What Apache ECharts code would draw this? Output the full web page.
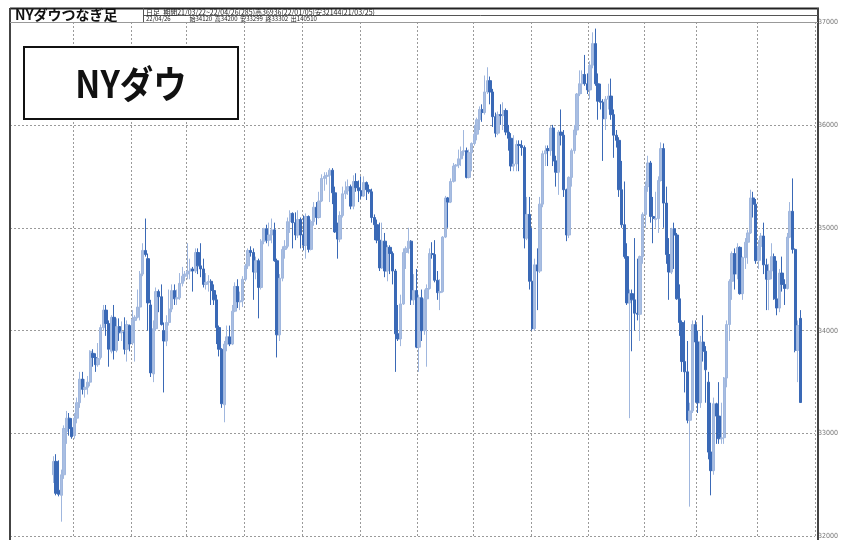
<!DOCTYPE html>
<html><head><meta charset="utf-8">
<script src="https://cdn.jsdelivr.net/npm/echarts/dist/echarts.min.js"></script>
<style>html,body{margin:0;padding:0;background:#fff}#c{width:841px;height:540px}</style>
</head><body><div id="c"></div>
<script>
// daily candles [open, high, low, close], one array per month
const mar21 = [[32600,32780,32520,32730],[32730,32800,32400,32420],[32450,32740,32390,32410],[32400,32650,32144,32600],[32600,33080,32560,33050],[33020,33220,32900,33150],[33150,33200,32980,33050],[33060,33150,32950,32970]];
const apr21 = [[32980,33200,32950,33150],[33150,33350,33100,33300],[33300,33600,33250,33530],[33530,33600,33380,33430],[33430,33530,33350,33450],[33450,33560,33380,33500],[33500,33810,33460,33800],[33780,33820,33650,33740],[33740,33780,33600,33670],[33670,33880,33650,33730],[33740,34060,33720,34030],[34030,34250,34000,34200],[34200,34250,33950,34070],[34070,34100,33650,33820],[33800,34150,33780,34130],[34130,34250,33720,33810],[33810,34120,33790,34040],[34040,34120,33900,33980],[33980,34090,33900,33990],[33990,34130,33770,33820],[33820,34100,33700,34060],[34050,34060,33800,33870]];
const may21 = [[33880,34200,33860,34110],[34100,34150,33700,34130],[34130,34400,34120,34230],[34230,34580,34100,34550],[34550,34850,34530,34780],[34780,35090,34720,34740],[34700,34750,34000,34270],[34250,34300,33550,33590],[33580,34100,33500,34020],[34020,34420,34000,34380],[34380,34400,34180,34330],[34330,34450,34050,34060],[34000,34080,33400,33900],[33900,34150,33850,34080],[34080,34400,34050,34210],[34210,34450,34180,34390],[34390,34450,34250,34310],[34310,34400,34250,34320],[34320,34560,34300,34460],[34460,34620,34430,34530],[34530,34580,34480,34550]];
const jun21 = [[34550,34850,34500,34580],[34580,34700,34500,34600],[34600,34620,34380,34580],[34580,34800,34560,34760],[34760,34800,34550,34630],[34630,34850,34520,34600],[34600,34700,34420,34450],[34450,34560,34400,34470],[34470,34540,34380,34480],[34480,34500,34250,34390],[34390,34450,34250,34300],[34300,34350,33870,34030],[34030,34050,33750,33820],[33820,33830,33250,33290],[33280,33900,33110,33870],[33870,34050,33800,33940],[33940,34050,33850,33870],[33870,34250,33860,34190],[34190,34470,34180,34430],[34430,34500,34220,34280],[34280,34380,34200,34290],[34290,34530,34230,34500]];
const jul21 = [[34500,34650,34480,34630],[34630,34800,34600,34780],[34780,34820,34720,34760],[34760,34800,34300,34570],[34570,34720,34500,34680],[34680,34700,34120,34420],[34420,34890,34400,34870],[34870,35000,34840,34990],[34990,35030,34850,34880],[34880,35050,34820,34930],[34930,35090,34850,34980],[34980,35050,34670,34680],[34680,34700,33740,33960],[33960,34550,33900,34510],[34510,34820,34480,34790],[34790,34880,34700,34820],[34820,35100,34800,35060],[35060,35170,34950,35140],[35140,35150,34800,35050],[35050,35150,34880,34930],[34930,35170,34900,35080],[35080,35100,34800,34930]];
const aug21 = [[34930,35120,34780,34830],[34830,35140,34700,35110],[35110,35120,34760,34790],[34790,35080,34780,35060],[35060,35250,35020,35200],[35200,35250,35030,35100],[35100,35350,35090,35260],[35260,35520,35250,35480],[35480,35540,35360,35500],[35500,35540,35420,35510],[35510,35580,35250,35560],[35560,35580,35230,35340],[35340,35400,34950,34960],[34960,35050,34700,34890],[34890,35160,34860,35120],[35120,35400,35100,35330],[35330,35450,35280,35360],[35360,35470,35320,35400],[35400,35420,35180,35210],[35210,35510,35180,35450],[35450,35530,35350,35390],[35390,35460,35250,35360]];
const sep21 = [[35360,35500,35280,35310],[35310,35500,35300,35440],[35440,35450,35270,35370],[35370,35420,35330,35350],[35350,35380,35050,35100],[35100,35130,34880,35030],[35030,35080,34850,34880],[34880,35050,34580,34610],[34610,35050,34600,34870],[34870,34950,34520,34580],[34580,34830,34480,34810],[34810,34830,34550,34750],[34750,34770,34450,34580],[34580,34600,33600,33970],[33970,34250,33900,33920],[33920,34350,33850,34260],[34260,34800,34250,34760],[34760,34820,34600,34800],[34800,35000,34750,34870],[34870,34880,34250,34300],[34300,34550,34250,34390],[34390,34600,33830,33840]];
const oct21 = [[33840,34350,33600,34320],[34320,34400,33900,34000],[34000,34400,33960,34310],[34310,34450,33650,34410],[34410,34800,34400,34750],[34750,34860,34700,34740],[34740,34880,34470,34490],[34490,34580,34300,34370],[34370,34500,34200,34380],[34380,34920,34370,34910],[34910,35310,34900,35290],[35290,35300,35000,35250],[35250,35480,35240,35450],[35450,35630,35440,35600],[35600,35620,35450,35610],[35610,35760,35580,35670],[35670,35790,35600,35740],[35740,35950,35700,35750],[35750,35780,35480,35490],[35490,35760,35480,35730],[35730,35830,35550,35820]];
const nov21 = [[35820,36000,35800,35910],[35910,36070,35850,36050],[36050,36180,35950,36150],[36150,36200,36030,36120],[36120,36480,36100,36320],[36320,36560,36300,36430],[36430,36470,36200,36320],[36320,36350,35980,36080],[36080,36120,35880,35920],[35920,36130,35900,36100],[36100,36200,36000,36090],[36090,36220,35950,36140],[36140,36160,35900,35930],[35930,36000,35750,35870],[35870,35920,35550,35600],[35600,35900,35550,35620],[35620,35850,35550,35810],[35810,35850,35550,35800],[35800,35850,35700,35780],[35780,35800,34800,34900],[34900,35300,34880,35130],[35130,35300,34400,34480]];
const dec21 = [[34480,35000,34000,34020],[34020,34700,34000,34640],[34640,34800,34200,34580],[34580,35300,34560,35230],[35230,35750,35200,35720],[35720,35800,35600,35750],[35770,35800,35600,35750],[35750,35990,35700,35970],[35970,36000,35600,35650],[35650,35700,35400,35540],[35540,35950,35320,35930],[35930,36150,35800,35900],[35900,35950,35300,35370],[35370,35380,34870,34930],[34930,35500,34900,35490],[35490,35770,35400,35750],[35750,36000,35720,35950],[35950,36310,35900,36300],[36300,36530,36280,36400],[36400,36530,36300,36490],[36490,36680,36380,36400],[36400,36500,36300,36340]];
const jan22 = [[36340,36620,36250,36580],[36580,36900,36550,36790],[36790,36936,36380,36400],[36400,36500,36050,36230],[36230,36400,36150,36220],[36220,36250,35650,36060],[36060,36280,35950,36250],[36250,36400,36150,36280],[36280,36450,36050,36100],[36100,36150,35680,35900],[35900,35950,35780,35850],[35850,35880,35300,35370],[35370,35650,35000,35030],[35030,35450,34700,34720],[34720,34850,34250,34270],[34270,34400,33150,34360],[34360,34400,33800,34300],[34300,34900,34000,34170],[34170,34700,34100,34160],[34160,34730,33900,34720],[34720,35150,34650,35130]];
const feb22 = [[35130,35450,35000,35400],[35400,35700,35350,35630],[35630,35650,35050,35110],[35110,35300,34850,35090],[35080,35350,35000,35090],[35090,35500,34950,35460],[35460,35830,35450,35770],[35770,35820,35000,35240],[35240,35400,34650,34740],[34740,34900,34300,34570],[34570,35000,34550,34990],[34990,35050,34600,34930],[34930,34950,34300,34310],[34310,34450,33950,34080],[34080,34100,33600,33700],[33700,34100,33400,33600],[33600,33900,33100,33130],[33130,33300,32290,33220],[33220,34100,33200,34060],[34060,34100,33300,33890]];
const mar22 = [[33890,34000,33200,33300],[33300,33950,33250,33890],[33890,34150,33700,33800],[33800,33850,33300,33620],[33500,33600,32750,32820],[32820,33300,32400,32640],[32640,33350,32600,33290],[33290,33300,32900,33170],[33170,33500,32900,32950],[32950,33300,32900,32960],[32960,33550,32900,33540],[33540,34100,33450,34060],[34060,34500,33900,34480],[34480,34770,34300,34750],[34750,34800,34400,34550],[34550,34850,34500,34810],[34810,34820,34350,34360],[34360,34720,34300,34710],[34710,34900,34600,34860],[34860,34980,34650,34950],[34950,35370,34940,35290],[35290,35350,35100,35230],[35230,35280,34650,34680]];
const apr22 = [[34680,34880,34600,34820],[34820,34950,34680,34920],[34920,35050,34550,34640],[34640,34700,34200,34500],[34500,34650,34200,34580],[34580,34850,34500,34720],[34720,34750,34300,34310],[34310,34680,34150,34220],[34220,34600,34180,34560],[34560,34720,34380,34450],[34450,34500,34250,34410],[34410,34950,34400,34910],[34910,35250,34900,35160],[35160,35480,34750,34790],[34790,34800,33790,33810],[33810,34100,33500,34050],[34120,34200,33299,33302]];
const months = [mar21, apr21, may21, jun21, jul21, aug21, sep21, oct21, nov21, dec21, jan22, feb22, mar22, apr22];
const yTicks = [32000, 33000, 34000, 35000, 36000, 37000];
const titleText = 'NYダウつなぎ足';
const infoLine1 = '日足  期間21/03/22~22/04/26(285)高36936(22/01/05)安32144(21/03/25)';
const infoLine2 = '22/04/26              始34120  高34200  安33299  終33302  出140510';
const boxLabel = 'NYダウ';

const LEAD = 16, TRAIL = 5;
const candles = [];
const monthStarts = [];
months.forEach(m => { monthStarts.push(LEAD + candles.length); m.forEach(r => candles.push(r)); });
const nSlots = LEAD + candles.length + TRAIL;
const cats = [];
for (let i = 0; i < nSlots; i++) cats.push(String(i));
const starts = new Set(monthStarts.slice(1));
const seriesData = candles.map((r, i) => [LEAD + i, r[0], r[3], r[2], r[1]]);

const chart = echarts.init(document.getElementById('c'), null, {renderer: 'canvas'});
const W = 841, H = 540, L = 10, R = 818, TOP = 22;
chart.setOption({
  animation: false,
  backgroundColor: '#fff',
  grid: {left: L, right: W - R, top: TOP, bottom: 0, containLabel: false},
  xAxis: {
    type: 'category', data: cats, boundaryGap: true,
    axisLine: {show: false}, axisTick: {show: false}, axisLabel: {show: false},
    splitLine: {show: true, interval: (idx) => starts.has(idx), lineStyle: {color: '#9a9a9a', type: [2, 2], width: 1}}
  },
  yAxis: {
    type: 'value', position: 'right', min: 32000, max: 37000, interval: 1000,
    axisLine: {show: false}, axisTick: {show: false},
    axisLabel: {show: true, margin: 3, fontSize: 7, color: '#777', fontFamily: 'DejaVu Sans Condensed, sans-serif',
      formatter: v => yTicks.indexOf(v) >= 0 ? String(v) : ''},
    splitLine: {show: true, lineStyle: {color: '#9a9a9a', type: [2, 2], width: 1}}
  },
  series: [{
    type: 'candlestick',
    data: seriesData,
    encode: {x: 0, y: [1, 2, 3, 4]},
    barWidth: 2.8,
    itemStyle: {color: '#a9bee2', color0: '#3a69b6', borderColor: '#a0b7de', borderColor0: '#3a69b6', borderWidth: 1}
  }],
  graphic: [
    {type: 'line', shape: {x1: L, y1: 8.5, x2: R + 1, y2: 8.5}, style: {stroke: '#222', lineWidth: 2}, z: 100},
    {type: 'line', shape: {x1: L, y1: 8, x2: L, y2: H}, style: {stroke: '#444', lineWidth: 2}, z: 100},
    {type: 'line', shape: {x1: R, y1: 8, x2: R, y2: H}, style: {stroke: '#444', lineWidth: 2}, z: 100},
    {type: 'line', shape: {x1: 143.5, y1: 15.5, x2: R, y2: 15.5}, style: {stroke: '#555', lineWidth: 1}, z: 100},
    {type: 'line', shape: {x1: L, y1: 22.5, x2: R, y2: 22.5}, style: {stroke: '#999', lineWidth: 1}, z: 100},
    {type: 'line', shape: {x1: 143.5, y1: 8, x2: 143.5, y2: 22}, style: {stroke: '#555', lineWidth: 1}, z: 100},
    {type: 'text', left: 15, top: 8, z: 100, style: {text: titleText, font: 'bold 14px "Noto Sans CJK JP"', fill: '#111'}},
    {type: 'text', left: 146, top: 9, z: 100, style: {text: infoLine1, font: '7px "Noto Sans CJK JP"', fill: '#222'}},
    {type: 'text', left: 146, top: 16, z: 100, style: {text: infoLine2, font: '6px "Noto Sans CJK JP"', fill: '#222'}},
    {type: 'rect', shape: {x: 24, y: 47, width: 214, height: 72}, style: {fill: '#fff', stroke: '#111', lineWidth: 2}, z: 100},
    {type: 'text', x: 131, y: 84, scaleX: 0.88, z: 101, style: {text: boxLabel, font: 'bold 38px "Noto Sans CJK JP"', fill: '#111', textAlign: 'center', textVerticalAlign: 'middle'}}
  ]
});
</script>
</body></html>
